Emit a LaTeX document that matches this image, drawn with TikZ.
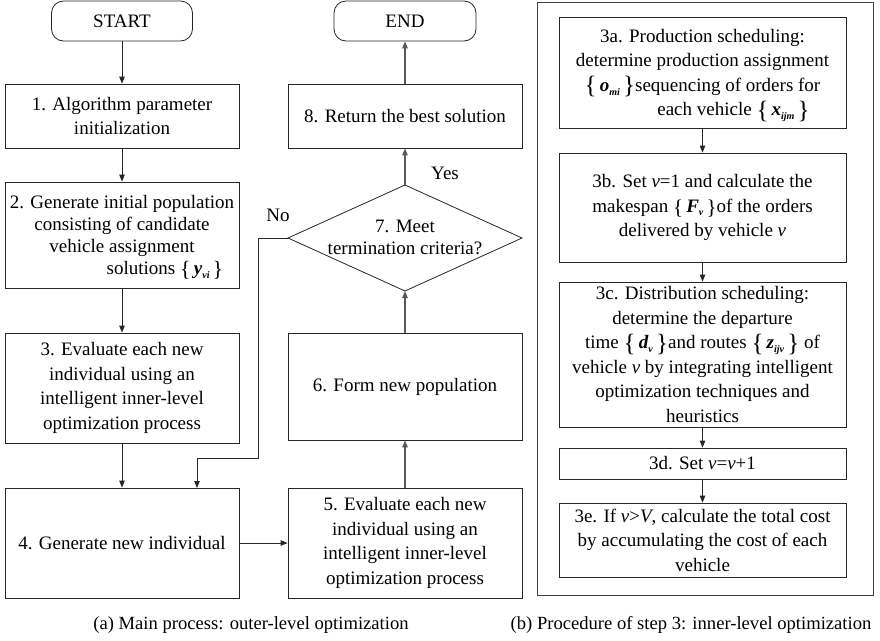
\documentclass[tikz,border=0pt]{standalone}
\usepackage{fontspec}
\setmainfont{Liberation Serif}
\usetikzlibrary{arrows.meta}

% body text and caption sizes
\newcommand{\bodyfont}{\fontsize{19}{24.5}\selectfont}
\newcommand{\tightfont}{\fontsize{19}{22}\selectfont}
\newcommand{\capfont}{\fontsize{18.6}{20}\selectfont}
% a bold italic variable set in enlarged braces, e.g. {o_mi}; the optional argument is the brace size
\newcommand{\bracefont}[1]{\fontsize{#1}{#1}\selectfont}
\newcommand{\setv}[3][25]{\smash{\raisebox{-0.12em}{\bracefont{#1}\{}\,\textbf{\textit{#2}}\raisebox{-0.45ex}{\fontsize{10}{10}\selectfont\textbf{\textit{#3}}}\,\raisebox{-0.12em}{\bracefont{#1}\}}}}

\tikzset{
  box/.style={draw=black!85, line width=0.8pt, inner sep=0pt, align=center, font=\bodyfont},
  term/.style={box, rounded corners=12pt},
  arr/.style={-{Triangle[length=7pt,width=5.5pt]}, line width=0.8pt, draw=black!85},
  grayarr/.style={arr, line width=1.1pt, draw=black!65},
  lbl/.style={font=\bodyfont, inner sep=0pt},
  captext/.style={font=\capfont, inner sep=0pt}
}

\begin{document}
\begin{tikzpicture}[x=1pt,y=-1pt]
\useasboundingbox (0,0) rectangle (880,640);

% ---------- outer-level process ----------
\node[term, minimum width=141pt, minimum height=40pt] (start) at (122,21) {START};
\node[box, minimum width=234pt, minimum height=64pt] (b1) at (122,116)
  {1. Algorithm parameter\\initialization};
\node[box, font=\tightfont, minimum width=234pt, minimum height=106pt] (b2) at (122,235)
  {2. Generate initial population\\consisting of candidate\\vehicle assignment\\\hspace*{86pt}solutions \setv[22]{y}{vi}};
\node[box, minimum width=234pt, minimum height=110pt] (b3) at (122,388)
  {3. Evaluate each new\\individual using an\\intelligent inner-level\\optimization process};
\node[box, minimum width=234pt, minimum height=110pt] (b4) at (122,543)
  {4. Generate new individual};
\node[box, minimum width=234pt, minimum height=110pt] (b5) at (405,543)
  {5. Evaluate each new\\individual using an\\intelligent inner-level\\optimization process};
\node[box, minimum width=234pt, minimum height=107pt] (b6) at (405,386.5)
  {6. Form new population};

% decision diamond
\coordinate (decT) at (405,185);
\coordinate (decB) at (405,291);
\coordinate (decL) at (288,238);
\coordinate (decR) at (522,238);
\draw[draw=black!85, line width=0.8pt] (decT) -- (decR) -- (decB) -- (decL) -- cycle;
\node[lbl, font=\tightfont, align=center] (dec) at (405,237) {7. Meet\\termination criteria?};

\node[box, minimum width=234pt, minimum height=64pt] (b8) at (405,116)
  {8. Return the best solution};
\node[term, minimum width=142pt, minimum height=40pt] (end) at (405,21) {END};

\node[lbl] (yes) at (445,173) {Yes};
\node[lbl] (no) at (278,215) {No};

\coordinate (nobend) at (258,458);
\coordinate (noin) at (197,488);

\draw[arr] (start) -- (b1);
\draw[arr] (b1) -- (b2);
\draw[arr] (b2) -- (b3);
\draw[arr] (b3) -- (b4);
\draw[arr] (b4) -- (b5);
\draw[grayarr] (b5) -- (b6);
\draw[grayarr] (b6) -- (decB);
\draw[grayarr] (decT) -- (b8);
\draw[grayarr] (b8) -- (end);
\draw[arr] (decL) -| (nobend) -| (noin);

% ---------- inner-level procedure ----------
\node[draw=black!75, line width=0.9pt, minimum width=336pt, minimum height=593pt, inner sep=0pt] (frame) at (705,298.5) {};

\node[box, minimum width=287pt, minimum height=111pt] (r3a) at (702.5,72.5)
  {3a. Production scheduling:\\determine production assignment\\\setv{o}{mi}sequencing of orders for\hspace*{72pt}\\\hspace*{62pt}each vehicle \setv{x}{ijm}};
\node[box, minimum width=287pt, minimum height=109pt] (r3b) at (702.5,207.5)
  {3b. Set \textit{v}=1 and calculate the\\makespan \setv[21]{F}{v}of the orders\\delivered by vehicle \textit{v}};
\node[box, minimum width=287pt, minimum height=145pt] (r3c) at (702.5,354.5)
  {3c. Distribution scheduling:\\determine the departure\\time \setv{d}{v}and routes \setv{z}{ijv} of\\vehicle \textit{v} by integrating intelligent\\optimization techniques and\\heuristics};
\node[box, minimum width=287pt, minimum height=31pt] (r3d) at (702.5,463.5)
  {3d. Set \textit{v}=\textit{v}+1};
\node[box, minimum width=287pt, minimum height=74pt] (r3e) at (702.5,540)
  {3e. If \textit{v}>\textit{V}, calculate the total cost\\by accumulating the cost of each\\vehicle};

\draw[arr] (r3a) -- (r3b);
\draw[arr] (r3b) -- (r3c);
\draw[arr] (r3c) -- (r3d);
\draw[arr] (r3d) -- (r3e);

% ---------- captions ----------
\node[captext] (capa) at (251,625) {(a) Main process: outer-level optimization};
\node[captext] (capb) at (691,625) {(b) Procedure of step 3: inner-level optimization};
\end{tikzpicture}
\end{document}
